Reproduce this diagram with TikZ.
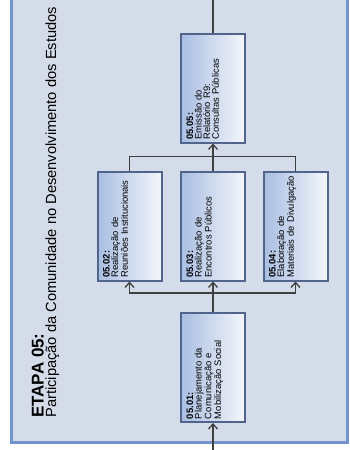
\documentclass[tikz,border=0pt]{standalone}
\usepackage{fontspec}
\setmainfont{Liberation Sans}
\usepackage{tikz}
\usetikzlibrary{arrows.meta}
\definecolor{framefill}{HTML}{D4DBE9}
\definecolor{frameline}{HTML}{7393CC}
\definecolor{boxline}{HTML}{50648C}
\definecolor{boxtop}{HTML}{F4F6FB}
\definecolor{boxbottom}{HTML}{A9BEE2}
\definecolor{wirecol}{HTML}{404040}
\tikzset{
  stageframe/.style = {fill=framefill, draw=frameline, line width=3pt},
  heading/.style    = {rotate=90, anchor=base west, inner sep=0pt},
  taskbox/.style    = {draw=boxline, line width=2pt, rotate=90,
                       left color=boxbottom, right color=boxtop,
                       minimum width=109pt, text width=103pt,
                       inner xsep=3pt, inner ysep=5pt,
                       text height=7pt, text depth=47pt, align=left,
                       font=\fontsize{9.4}{8.6}\selectfont},
  wire/.style = {draw=wirecol, line width=1.3pt},
  arr/.style  = {wire, -{Straight Barb[length=5pt,width=9pt]}}
}

\begin{document}
\begin{tikzpicture}[x=1pt,y=-1pt]
  \useasboundingbox (0,0) rectangle (350,450);
  \clip (0,0) rectangle (350,450);
  \path[stageframe] (11.5,-20) rectangle (347.5,442.5);
  % titulo da etapa
  \node[heading, font=\fontsize{17}{17}\selectfont\bfseries] (etapa) at (43.5,418) {ETAPA 05:};
  \node[heading, font=\fontsize{14.7}{15}\selectfont] (tema) at (56,418)
    {Participação da Comunidade no Desenvolvimento dos Estudos};
  % atividades
  \node[taskbox] (a01) at (213,367.5) {\textbf{05.01:}\\Planejamento da\\Comunicação e\\Mobilização Social};
  \node[taskbox] (a02) at (129.5,226) {\textbf{05.02:}\\Realização de\\Reuniões Institucionais};
  \node[taskbox] (a03) at (213,226) {\textbf{05.03:}\\Realização de\\Encontros Públicos};
  \node[taskbox] (a04) at (295.5,226) {\textbf{05.04:}\\Elaboração de\\Materiais de Divulgação};
  \node[taskbox] (a05) at (213,88) {\textbf{05.05:}\\Emissão do\\Relatório R9:\\Consultas Públicas};
  \coordinate (entrada) at (213,455);
  \coordinate (saida) at (213,-5);
  % ligacoes
  \draw[arr] (entrada) -- (a01.west);
  \draw[arr] (a01.east) -- (a03.west);
  \draw[arr] (a01.east) -- ++(0,-19) -| (a02.west);
  \draw[arr] (a01.east) -- ++(0,-19) -| (a04.west);
  \draw[wire] (a02.east) -- ++(0,-14) -| (a04.east);
  \draw[arr] (a03.east) -- (a05.west);
  \draw[wire] (a05.east) -- (saida);
\end{tikzpicture}
\end{document}
